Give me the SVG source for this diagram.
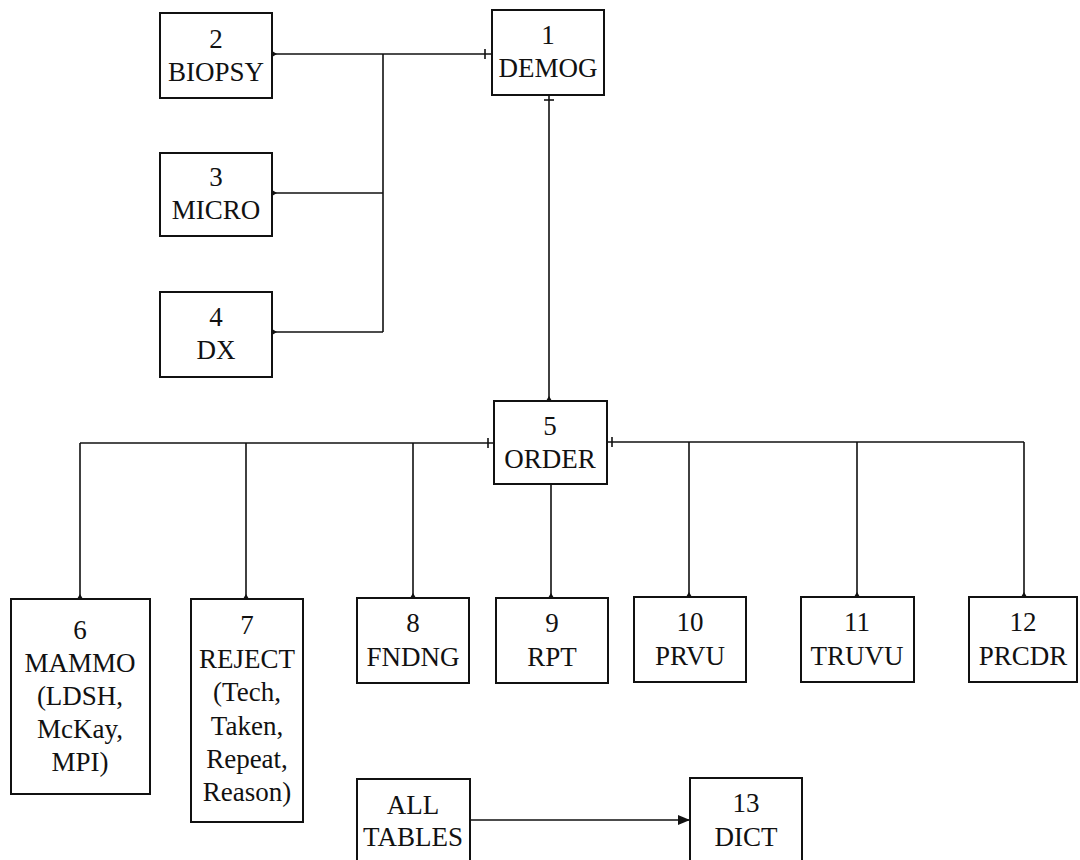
<svg xmlns="http://www.w3.org/2000/svg" width="1080" height="860" viewBox="0 0 1080 860">
<defs>
<style>
.box{fill:#fff;stroke:#111;stroke-width:2}
.t{font-family:"Liberation Serif","Times New Roman",serif;font-size:27px;fill:#111;text-anchor:middle}
.ln{fill:none;stroke:#111;stroke-width:1.6}
.mk{fill:#111;stroke:none}
</style>
<marker id="arr" viewBox="0 0 12 10" refX="12" refY="5" markerWidth="12" markerHeight="10" markerUnits="userSpaceOnUse" orient="auto">
<path d="M0,0 L12,5 L0,10 z" fill="#111"/>
</marker>
</defs>
<rect width="1080" height="860" fill="#fff"/>

<g id="connectors">
<path class="ln" d="M272,54 H492"/>
<path class="ln" d="M383,54 V332"/>
<path class="ln" d="M272,193 H383"/>
<path class="ln" d="M272,332 H383"/>
<path class="ln" d="M485,49 V59"/>
<path class="mk" d="M272,51 L277,54 L272,57 z"/>
<path class="mk" d="M272,190 L277,193 L272,196 z"/>
<path class="mk" d="M272,329 L277,332 L272,335 z"/>
<path class="ln" d="M549,95 V401"/>
<path class="ln" d="M544,100 H554"/>
<path class="mk" d="M546,401 L549,396 L552,401 z"/>
<path class="ln" d="M80,443 H494"/>
<path class="ln" d="M488,438 V448"/>
<path class="ln" d="M80,443 V599"/>
<path class="ln" d="M246,443 V599"/>
<path class="ln" d="M413,443 V598"/>
<path class="ln" d="M607,442 H1024"/>
<path class="ln" d="M612,437 V447"/>
<path class="ln" d="M689,442 V597"/>
<path class="ln" d="M857,442 V597"/>
<path class="ln" d="M1024,442 V597"/>
<path class="ln" d="M551,484 V598"/>
<path class="mk" d="M77,599 L80,594 L83,599 z"/>
<path class="mk" d="M243,599 L246,594 L249,599 z"/>
<path class="mk" d="M410,598 L413,593 L416,598 z"/>
<path class="mk" d="M548,598 L551,593 L554,598 z"/>
<path class="mk" d="M686,597 L689,592 L692,597 z"/>
<path class="mk" d="M854,597 L857,592 L860,597 z"/>
<path class="mk" d="M1021,597 L1024,592 L1027,597 z"/>
<path class="ln" d="M470,820 H690" marker-end="url(#arr)"/>
</g>

<g id="n1"><rect class="box" x="492" y="10" width="112" height="85"/>
<text class="t" x="548" y="44">1</text><text class="t" x="548" y="77">DEMOG</text></g>
<g id="n2"><rect class="box" x="160" y="13" width="112" height="85"/>
<text class="t" x="216" y="48">2</text><text class="t" x="216" y="81">BIOPSY</text></g>
<g id="n3"><rect class="box" x="160" y="153" width="112" height="83"/>
<text class="t" x="216" y="186">3</text><text class="t" x="216" y="219">MICRO</text></g>
<g id="n4"><rect class="box" x="160" y="292" width="112" height="85"/>
<text class="t" x="216" y="326">4</text><text class="t" x="216" y="359">DX</text></g>
<g id="n5"><rect class="box" x="494" y="401" width="113" height="83"/>
<text class="t" x="550" y="435">5</text><text class="t" x="550" y="468">ORDER</text></g>
<g id="n6"><rect class="box" x="11" y="599" width="139" height="195"/>
<text class="t" x="80" y="639">6</text><text class="t" x="80" y="672">MAMMO</text>
<text class="t" x="80" y="705">(LDSH,</text><text class="t" x="80" y="738">McKay,</text><text class="t" x="80" y="771">MPI)</text></g>
<g id="n7"><rect class="box" x="191" y="599" width="112" height="223"/>
<text class="t" x="247" y="634">7</text><text class="t" x="247" y="668">REJECT</text>
<text class="t" x="247" y="701">(Tech,</text><text class="t" x="247" y="735">Taken,</text>
<text class="t" x="247" y="768">Repeat,</text><text class="t" x="247" y="801">Reason)</text></g>
<g id="n8"><rect class="box" x="357" y="598" width="112" height="85"/>
<text class="t" x="413" y="632">8</text><text class="t" x="413" y="666">FNDNG</text></g>
<g id="n9"><rect class="box" x="496" y="598" width="112" height="85"/>
<text class="t" x="552" y="632">9</text><text class="t" x="552" y="666">RPT</text></g>
<g id="n10"><rect class="box" x="634" y="597" width="112" height="85"/>
<text class="t" x="690" y="631">10</text><text class="t" x="690" y="665">PRVU</text></g>
<g id="n11"><rect class="box" x="801" y="597" width="113" height="85"/>
<text class="t" x="857" y="631">11</text><text class="t" x="857" y="665">TRUVU</text></g>
<g id="n12"><rect class="box" x="969" y="597" width="108" height="85"/>
<text class="t" x="1023" y="631">12</text><text class="t" x="1023" y="665">PRCDR</text></g>
<g id="nall"><rect class="box" x="357" y="779" width="113" height="90"/>
<text class="t" x="413" y="814">ALL</text><text class="t" x="413" y="846">TABLES</text></g>
<g id="n13"><rect class="box" x="690" y="778" width="112" height="90"/>
<text class="t" x="746" y="812">13</text><text class="t" x="746" y="846">DICT</text></g>
</svg>
